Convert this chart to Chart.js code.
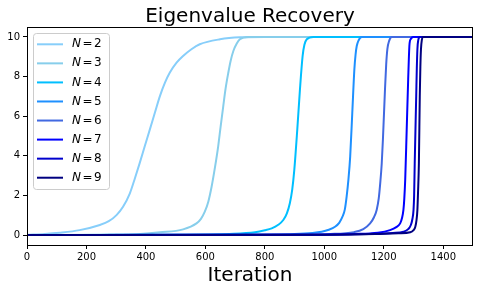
<!DOCTYPE html>
<html>
<head>
<meta charset="utf-8">
<script src="https://cdn.jsdelivr.net/npm/chart.js@4.4.0/dist/chart.umd.min.js"></script>
<style>
  body { margin: 0; background: #fff; }
  canvas { display: block; }
</style>
</head>
<body>
<canvas id="chart" width="480" height="292"></canvas>
<script>
// series labels and colours
const labels = ['2', '3', '4', '5', '6', '7', '8', '9']
const colors = ['#87CEFA', '#87CEEB', '#00BFFF', '#1E90FF', '#4169E1', '#0000FF', '#0000CD', '#000080']

// points (iteration, eigenvalue)
const n2Iter = [0, 60, 110, 177, 245, 275, 301, 323, 346, 363, 379, 396, 413, 430, 447, 464, 480, 503, 525, 553, 581, 649, 716, 800, 1500]
const n2Val  = [0.02, 0.06, 0.12, 0.25, 0.51, 0.70, 1.01, 1.43, 2.11, 2.87, 3.63, 4.48, 5.32, 6.17, 7.01, 7.69, 8.19, 8.70, 9.04, 9.38, 9.63, 9.88, 9.98, 10, 10]
const n3Iter = [0, 250, 380, 447, 525, 570, 585, 598, 610, 621, 632, 643, 651, 660, 668, 677, 685, 694, 705, 716, 744, 1500]
const n3Val  = [0.0, 0.02, 0.06, 0.14, 0.29, 0.59, 0.82, 1.18, 1.70, 2.45, 3.40, 4.48, 5.45, 6.50, 7.40, 8.19, 8.80, 9.29, 9.65, 9.88, 10, 10]
const n4Iter = [0, 500, 680, 767, 800, 823, 845, 862, 874, 884, 892, 899, 909, 918, 927, 933, 941, 963, 1500]
const n4Val  = [0.0, 0.02, 0.06, 0.14, 0.24, 0.34, 0.52, 0.76, 1.10, 1.61, 2.30, 3.29, 5.32, 7.35, 9.04, 9.60, 9.88, 10, 10]
const n5Iter = [0, 700, 900, 960, 991, 1015, 1036, 1050, 1061, 1069, 1075, 1081, 1087, 1094, 1101, 1105, 1109, 1115, 1126, 1500]
const n5Val  = [0.0, 0.02, 0.06, 0.11, 0.17, 0.27, 0.42, 0.62, 0.93, 1.30, 1.94, 2.80, 3.97, 6.17, 8.36, 9.10, 9.54, 9.82, 10, 10]
const n6Iter = [0, 800, 1020, 1100, 1131, 1154, 1167, 1176, 1183, 1188, 1193, 1197, 1204, 1208, 1212, 1218, 1227, 1500]
const n6Val  = [0.0, 0.02, 0.06, 0.15, 0.30, 0.59, 0.90, 1.27, 1.85, 2.62, 3.60, 4.81, 7.35, 8.60, 9.38, 9.80, 10, 10]
const n7Iter = [0, 900, 1100, 1180, 1221, 1242, 1255, 1261, 1266, 1269, 1272, 1277, 1282, 1286, 1288, 1291, 1298, 1500]
const n7Val  = [0.0, 0.02, 0.06, 0.12, 0.25, 0.40, 0.59, 0.85, 1.27, 1.85, 2.79, 5.32, 7.86, 9.54, 9.80, 9.90, 10, 10]
const n8Iter = [0, 950, 1150, 1230, 1266, 1282, 1291, 1296, 1300, 1302, 1304, 1309, 1311, 1313, 1316, 1322, 1500]
const n8Val  = [0.0, 0.02, 0.06, 0.11, 0.17, 0.30, 0.51, 0.80, 1.27, 2.00, 3.63, 7.01, 8.40, 9.38, 9.85, 10, 10]
const n9Iter = [0, 1000, 1170, 1250, 1289, 1300, 1306, 1310, 1313, 1315, 1318, 1321, 1323, 1325, 1328, 1332, 1500]
const n9Val  = [0.0, 0.02, 0.05, 0.09, 0.14, 0.25, 0.42, 0.75, 1.27, 2.10, 3.63, 7.01, 8.50, 9.38, 9.85, 10, 10]

const iters = [n2Iter, n3Iter, n4Iter, n5Iter, n6Iter, n7Iter, n8Iter, n9Iter]
const vals  = [n2Val, n3Val, n4Val, n5Val, n6Val, n7Val, n8Val, n9Val]

// axis ticks
const xTicks = [0, 200, 400, 600, 800, 1000, 1200, 1400]
const yTicks = [0, 2, 4, 6, 8, 10]

const titleText = 'Eigenvalue Recovery'
const xLabel = 'Iteration'
const font = "'DejaVu Sans', sans-serif"

let datasets = labels.map(function(n, i) {
  return {
    label: 'N = ' + n,
    data: iters[i].map((x, j) => ({ x: x, y: vals[i][j] })),
    borderColor: colors[i],
    backgroundColor: colors[i],
    borderWidth: 2,
    pointRadius: 0,
    cubicInterpolationMode: 'monotone',
    order: -i   // later N drawn on top
  }
})

// title, frame and legend box drawn like matplotlib
const extras = {
  id: 'extras',
  afterDatasetsDraw(chart) {
    const ctx = chart.ctx
    const a = chart.chartArea
    ctx.save()
    // frame
    ctx.strokeStyle = '#000'
    ctx.lineWidth = 1
    ctx.strokeRect(Math.round(a.left) + 0.5, Math.round(a.top) + 0.5,
      Math.round(a.right - a.left) - 1, Math.round(a.bottom - a.top))

    // title
    ctx.fillStyle = '#000'
    ctx.font = '20px ' + font
    ctx.textAlign = 'center'
    ctx.textBaseline = 'alphabetic'
    ctx.fillText(titleText, (a.left + a.right) / 2, 22)

    // legend
    const bx = a.left + 6, by = a.top + 6, bw = 76, bh = 156
    ctx.beginPath()
    ctx.roundRect(bx + 0.5, by + 0.5, bw, bh, 3)
    ctx.fillStyle = 'rgba(255,255,255,0.8)'
    ctx.fill()
    ctx.strokeStyle = '#cccccc'
    ctx.stroke()
    ctx.textAlign = 'left'
    ctx.textBaseline = 'middle'
    labels.forEach(function(n, i) {
      const y = by + 11.3 + i * 19.06
      ctx.strokeStyle = colors[i]
      ctx.lineWidth = 2
      ctx.beginPath()
      ctx.moveTo(bx + 4, y)
      ctx.lineTo(bx + 30, y)
      ctx.stroke()
      let x = bx + 39
      ctx.fillStyle = '#000'
      ctx.font = 'italic 12px ' + font
      ctx.fillText('N', x, y)
      x += ctx.measureText('N').width + 1.5
      ctx.font = '12px ' + font
      ctx.fillText('=', x, y)
      x += ctx.measureText('=').width + 1.5
      ctx.fillText(n, x, y)
    })
    ctx.restore()
  }
}

new Chart(document.querySelector('#chart'), {
  type: 'line',
  data: { datasets: datasets },
  options: {
    responsive: false,
    animation: false,
    layout: { padding: { top: 27, right: 7, left: 0, bottom: 0 } },
    plugins: { legend: { display: false }, tooltip: { enabled: false } },
    scales: {
      x: {
        type: 'linear',
        min: 0,
        max: 1500,
        afterBuildTicks: s => { s.ticks = xTicks.map(v => ({ value: v })) },
        afterFit: s => { s.height = 47 },
        border: { display: false },
        grid: { drawOnChartArea: false, tickLength: 4, tickColor: '#000', color: '#000' },
        ticks: { color: '#000', padding: 2, maxRotation: 0, font: { family: font, size: 10 }, callback: v => String(v) },
        title: { display: true, text: xLabel, color: '#000', font: { family: font, size: 20 }, padding: { top: 0, bottom: 4 } }
      },
      y: {
        min: -0.5,
        max: 10.5,
        afterBuildTicks: s => { s.ticks = yTicks.map(v => ({ value: v })) },
        afterFit: s => { s.width = 27 },
        border: { display: false },
        grid: { drawOnChartArea: false, tickLength: 4, tickColor: '#000', color: '#000' },
        ticks: { color: '#000', padding: 3, font: { family: font, size: 10 }, callback: v => String(v) }
      }
    }
  },
  plugins: [extras]
})
</script>
</body>
</html>
